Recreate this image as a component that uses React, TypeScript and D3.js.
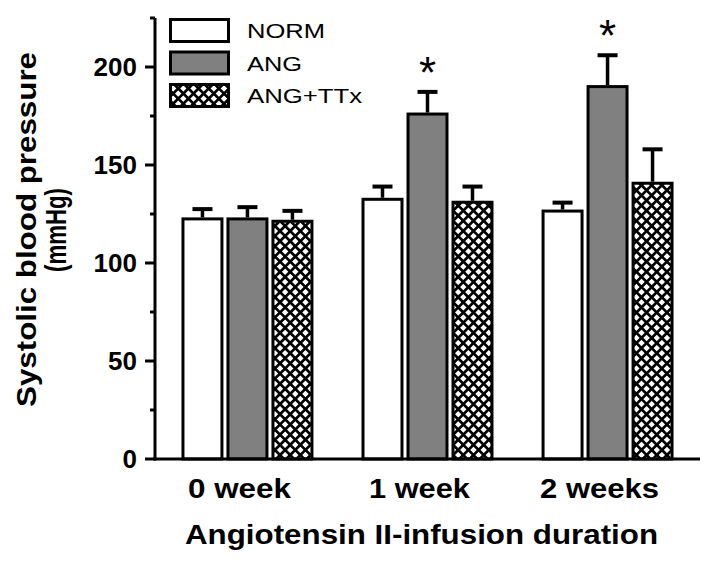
import React from "react";
import * as d3 from "d3";

const groups = ["0 week", "1 week", "2 weeks"];
const seriesNames = ["NORM", "ANG", "ANG+TTx"];
const normValues = [122.5, 132.5, 126.5];
const normErrors = [5, 6.5, 4.3];
const angValues = [122.5, 176, 190];
const angErrors = [6, 11.3, 16];
const ttxValues = [121.3, 131, 140.7];
const ttxErrors = [5.3, 8, 17.3];
const significant = [false, true, true]; // ANG marked with *
const majorTicks = [0, 50, 100, 150, 200];
const minorTicks = [25, 75, 125, 175, 225];
const yTitle = "Systolic blood pressure";
const yUnit = "(mmHg)";
const xTitle = "Angiotensin II-infusion duration";

const W = 718;
const H = 566;
const FONT = "'Liberation Sans', Arial, Helvetica, sans-serif";

export default function App() {
  const left = 155;
  const right = 700;
  const top = 18;
  const bottom = 459;

  const y = d3.scaleLinear().domain([0, 225]).range([bottom, top]);
  const x0 = d3
    .scaleBand<string>()
    .domain(groups)
    .range([left, right])
    .paddingInner(0.267)
    .paddingOuter(0.147);
  const x1 = d3
    .scaleBand<string>()
    .domain(seriesNames)
    .range([0, x0.bandwidth()])
    .paddingInner(0.067);

  const data = [
    { name: "NORM", values: normValues, errors: normErrors, fill: "#ffffff" },
    { name: "ANG", values: angValues, errors: angErrors, fill: "#808080" },
    { name: "ANG+TTx", values: ttxValues, errors: ttxErrors, fill: "url(#xhatch)" },
  ];

  const bw = x1.bandwidth();
  const sw = 3;

  const legendTextLen: Record<string, number> = { NORM: 78, ANG: 55, "ANG+TTx": 115 };
  const catTextLen: Record<string, number> = { "0 week": 103, "1 week": 101, "2 weeks": 119 };

  return (
    <svg
      width={W}
      height={H}
      style={{ position: "absolute", left: 0, top: 0, background: "#fff" }}
      fontFamily={FONT}
    >
      <defs>
        <pattern
          id="xhatch"
          patternUnits="userSpaceOnUse"
          width={7.2}
          height={7.2}
          patternTransform="rotate(45)"
        >
          <rect x={0} y={0} width={7.2} height={7.2} fill="#fff" />
          <rect x={0} y={0} width={7.2} height={2.7} fill="#000" />
          <rect x={0} y={0} width={2.7} height={7.2} fill="#000" />
        </pattern>
      </defs>
      <rect x={0} y={0} width={W} height={H} fill="#fff" />

      {/* bars */}
      {data.map((s) =>
        groups.map((g, i) => {
          const v = s.values[i];
          const bx = (x0(g) ?? 0) + (x1(s.name) ?? 0);
          return (
            <rect
              key={s.name + g}
              x={bx + sw / 2}
              y={y(v)}
              width={bw - sw}
              height={y(0) - y(v)}
              fill={s.fill}
              stroke="#000"
              strokeWidth={sw}
            />
          );
        })
      )}

      {/* error bars */}
      {data.map((s) =>
        groups.map((g, i) => {
          const v = s.values[i];
          const e = s.errors[i];
          const cx = (x0(g) ?? 0) + (x1(s.name) ?? 0) + bw / 2;
          return (
            <g key={"e" + s.name + g} stroke="#000">
              <line x1={cx} x2={cx} y1={y(v) - sw / 2} y2={y(v + e)} strokeWidth={3.5} />
              <line x1={cx - 10} x2={cx + 10} y1={y(v + e)} y2={y(v + e)} strokeWidth={4} />
            </g>
          );
        })
      )}

      {/* significance stars */}
      {groups.map((g, i) => {
        if (!significant[i]) return null;
        const cx = (x0(g) ?? 0) + (x1("ANG") ?? 0) + bw / 2;
        const cy = y(angValues[i] + angErrors[i]) - 24;
        return (
          <text
            key={"s" + g}
            x={cx}
            y={cy + 20}
            textAnchor="middle"
            fontSize={44}
            fill="#000"
          >
            *
          </text>
        );
      })}

      {/* axes */}
      <line x1={left} x2={left} y1={top} y2={bottom + 1.5} stroke="#000" strokeWidth={3} />
      <line x1={left - 1.5} x2={right} y1={bottom} y2={bottom} stroke="#000" strokeWidth={3} />
      {majorTicks.map((t) => (
        <g key={"M" + t}>
          <line x1={left - 10} x2={left} y1={y(t)} y2={y(t)} stroke="#000" strokeWidth={3} />
          <text
            x={137}
            y={y(t)}
            dy="0.36em"
            textAnchor="end"
            fontSize={26}
            fontWeight="bold"
            fill="#000"
          >
            {t}
          </text>
        </g>
      ))}
      {minorTicks.map((t) => (
        <line key={"m" + t} x1={left - 5} x2={left} y1={y(t)} y2={y(t)} stroke="#000" strokeWidth={3} />
      ))}

      {/* x category labels */}
      {groups.map((g) => (
        <text
          key={"l" + g}
          x={(x0(g) ?? 0) + x0.bandwidth() / 2 - 8 - catTextLen[g] / 2}
          y={498}
          fontSize={28}
          fontWeight="bold"
          textLength={catTextLen[g]}
          lengthAdjust="spacingAndGlyphs"
          fill="#000"
        >
          {g}
        </text>
      ))}

      {/* axis titles */}
      <text
        x={185}
        y={544}
        fontSize={27}
        fontWeight="bold"
        textLength={473}
        lengthAdjust="spacingAndGlyphs"
        fill="#000"
      >
        {xTitle}
      </text>
      <text
        transform="translate(36,407) rotate(-90)"
        fontSize={28}
        fontWeight="bold"
        textLength={355}
        lengthAdjust="spacingAndGlyphs"
        fill="#000"
      >
        {yTitle}
      </text>
      <text
        transform="translate(66,272) rotate(-90)"
        fontSize={29}
        fontWeight="bold"
        textLength={84}
        lengthAdjust="spacingAndGlyphs"
        fill="#000"
      >
        {yUnit}
      </text>

      {/* legend */}
      {data.map((s, i) => {
        const ly = 19.5 + i * 32.5;
        return (
          <g key={"lg" + s.name}>
            <rect x={170.5} y={ly} width={58} height={22} fill={s.fill} stroke="#000" strokeWidth={3} />
            <text
              x={247}
              y={ly + 18.5}
              fontSize={21}
              textLength={legendTextLen[s.name]}
              lengthAdjust="spacingAndGlyphs"
              fill="#000"
            >
              {s.name}
            </text>
          </g>
        );
      })}
    </svg>
  );
}
